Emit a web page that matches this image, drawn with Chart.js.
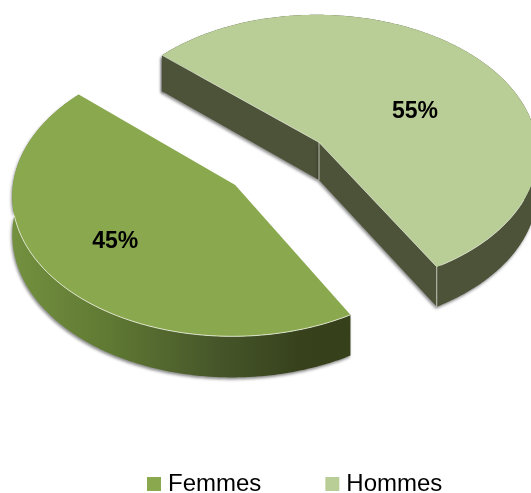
<!DOCTYPE html>
<html><head><meta charset="utf-8">
<style>html,body{margin:0;padding:0;background:#fff}#w{width:531px;height:493px;position:relative}</style>
<script src="https://cdn.jsdelivr.net/npm/chart.js@4"></script></head>
<body><div id="w"><canvas id="c" width="531" height="493"></canvas></div>
<script>
const categories = ["Femmes", "Hommes"];
const shares = [45, 55];
const topColors = ["#8AA84E", "#B9CD96"];

// view of the tilted disc
const V = {X0: 277.5, Y0: 163.5, A: 220, B: 138.5, p: 0.065, explode: 0.245, depth: 38};
const labelOffset = [[-120, 57], [96, -31]];

function project(u, v, drop) {
  const w = 1 / (1 - V.p * v);
  return [V.X0 + V.A * u * w, V.Y0 + V.B * v * w + (drop ? V.depth * w : 0)];
}
function sliceGeometry(el) {
  const {startAngle: s, endAngle: e} = el.getProps(['startAngle', 'endAngle'], true);
  const m = (s + e) / 2, ou = V.explode * Math.cos(m), ov = V.explode * Math.sin(m);
  const pt = (t, drop) => project(ou + Math.cos(t), ov + Math.sin(t), drop);
  const n = Math.ceil((e - s) / 0.01), arc = t => Array.from({length: n + 1}, (_, i) => pt(s + (e - s) * i / n, t));
  return {s, e, apex: d => project(ou, ov, d), pt, arc};
}
function poly(ctx, pts) {
  ctx.beginPath();
  pts.forEach((p, i) => i ? ctx.lineTo(p[0], p[1]) : ctx.moveTo(p[0], p[1]));
  ctx.closePath();
}
function line(ctx, pts, color, w) {
  ctx.beginPath();
  pts.forEach((p, i) => i ? ctx.lineTo(p[0], p[1]) : ctx.moveTo(p[0], p[1]));
  ctx.strokeStyle = color; ctx.lineWidth = w; ctx.stroke();
}
const tilted = {
  id: 'tilted',
  beforeDraw(chart) {
    const lg = chart.legend;
    lg.left = 83; lg.top = 493 + 7 - lg.options.labels.padding - 28;
  },
  beforeDatasetsDraw(chart) {
    const ctx = chart.ctx, arcs = chart.getDatasetMeta(0).data;
    const geo = arcs.map(sliceGeometry);
    const grad = ctx.createLinearGradient(11, 0, 349, 0);
    grad.addColorStop(0, '#73913F'); grad.addColorStop(0.3, '#5F7833');
    grad.addColorStop(0.6, '#47572A'); grad.addColorStop(0.85, '#37421D'); grad.addColorStop(1, '#36401B');
    const sideFill = [grad, '#4D5339'];
    ctx.save();
    ctx.lineJoin = 'round';
    // sides
    geo.forEach((g, i) => {
      ctx.save();
      ctx.shadowColor = 'rgba(0,0,0,0.45)'; ctx.shadowBlur = 3; ctx.shadowOffsetX = -1; ctx.shadowOffsetY = 2;
      ctx.fillStyle = sideFill[i];
      poly(ctx, [...g.arc(false), ...g.arc(true).reverse()]); ctx.fill();
      if (i === 1) {
        poly(ctx, [g.pt(g.s, false), g.apex(false), g.apex(true), g.pt(g.s, true)]); ctx.fill();
        poly(ctx, [g.apex(false), g.pt(g.e, false), g.pt(g.e, true), g.apex(true)]); ctx.fill();
      }
      ctx.restore();
    });
    // tops
    geo.forEach((g, i) => {
      ctx.fillStyle = arcs[i].options.backgroundColor;
      poly(ctx, [g.apex(false), ...g.arc(false)]); ctx.fill();
    });
    // light edges
    const f = geo[0], h = geo[1];
    line(ctx, f.arc(false).filter(p => p[1] > 215), 'rgba(235,238,222,0.85)', 1);
    line(ctx, [h.apex(false), h.apex(true)], 'rgba(225,228,215,0.8)', 1);
    line(ctx, [h.pt(h.e, false), h.pt(h.e, true)], 'rgba(225,228,215,0.8)', 1);
    line(ctx, [h.pt(h.s, false), h.apex(false), h.pt(h.e, false)], 'rgba(225,228,215,0.6)', 1);
    line(ctx, h.arc(false).filter(p => p[0] > 440 && p[1] > 200), 'rgba(225,228,215,0.7)', 1);
    // value labels
    ctx.fillStyle = '#000'; ctx.font = 'bold 23px "Liberation Sans"';
    ctx.textAlign = 'center'; ctx.textBaseline = 'middle';
    geo.forEach((g, i) => {
      const a = g.apex(false);
      ctx.fillText(shares[i] + '%', a[0] + labelOffset[i][0], a[1] + labelOffset[i][1]);
    });
    ctx.restore();
    return false;
  }
};
new Chart(document.getElementById('c'), {
  type: 'pie',
  data: {labels: categories, datasets: [{data: shares, backgroundColor: topColors, borderWidth: 0}]},
  options: {
    responsive: false, animation: false, rotation: 150,
    plugins: {
      tooltip: {enabled: false},
      legend: {
        position: 'bottom', align: 'start', onClick: null,
        labels: {
          boxWidth: 4, boxHeight: 4, padding: 69, color: '#000',
          font: {family: '"Liberation Sans"', size: 24},
          generateLabels: c => c.data.labels.map((t, i) => ({
            text: t, fillStyle: topColors[i], strokeStyle: topColors[i], lineWidth: 10, fontColor: '#000', hidden: false, index: i
          }))
        }
      }
    }
  },
  plugins: [tilted]
});
</script></body></html>
